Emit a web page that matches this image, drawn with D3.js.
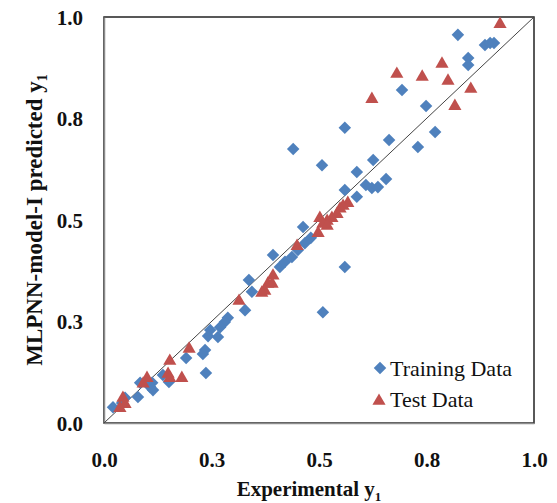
<!DOCTYPE html>
<html>
<head>
<meta charset="utf-8">
<script src="https://cdnjs.cloudflare.com/ajax/libs/d3/7.8.5/d3.min.js"></script>
<style>
  body { margin: 0; background: #fff; }
  text { font-family: "Liberation Serif", "Times New Roman", serif; }
</style>
</head>
<body>
<div id="chart"></div>
<script>
// values: [experimental, predicted]
var trainingData = [
  [0.823, 0.956], [0.886, 0.931], [0.898, 0.936], [0.907, 0.936],
  [0.847, 0.899], [0.847, 0.882], [0.693, 0.820], [0.749, 0.781],
  [0.560, 0.727], [0.770, 0.717], [0.663, 0.697], [0.730, 0.680],
  [0.626, 0.648], [0.507, 0.635], [0.588, 0.618], [0.440, 0.675],
  [0.656, 0.601], [0.609, 0.586], [0.623, 0.579], [0.637, 0.581],
  [0.560, 0.574], [0.588, 0.557], [0.463, 0.483], [0.560, 0.384],
  [0.509, 0.273], [0.393, 0.414], [0.409, 0.384], [0.421, 0.397],
  [0.437, 0.409], [0.451, 0.426], [0.467, 0.443], [0.481, 0.456],
  [0.337, 0.352], [0.344, 0.323], [0.328, 0.278], [0.288, 0.259],
  [0.281, 0.249], [0.270, 0.236], [0.247, 0.229], [0.242, 0.214],
  [0.265, 0.212], [0.235, 0.180], [0.230, 0.170], [0.191, 0.160],
  [0.237, 0.123], [0.137, 0.118], [0.151, 0.101], [0.112, 0.099],
  [0.114, 0.081], [0.107, 0.089], [0.084, 0.099], [0.079, 0.064],
  [0.049, 0.062], [0.042, 0.049], [0.021, 0.039]
];

var testData = [
  [0.921, 0.985], [0.681, 0.862], [0.740, 0.855], [0.786, 0.887],
  [0.800, 0.845], [0.853, 0.825], [0.816, 0.783], [0.623, 0.800],
  [0.567, 0.544], [0.556, 0.537], [0.549, 0.530], [0.542, 0.517],
  [0.530, 0.507], [0.519, 0.500], [0.509, 0.493], [0.502, 0.507],
  [0.498, 0.470], [0.519, 0.488], [0.449, 0.438], [0.393, 0.365],
  [0.381, 0.345], [0.374, 0.328], [0.367, 0.323], [0.391, 0.345],
  [0.314, 0.303], [0.198, 0.185], [0.153, 0.155], [0.149, 0.123],
  [0.153, 0.113], [0.181, 0.113], [0.100, 0.113], [0.091, 0.099],
  [0.044, 0.064], [0.049, 0.049], [0.037, 0.039]
];

var tickValues = [0, 0.25, 0.5, 0.75, 1];
var tickLabels = ["0.0", "0.3", "0.5", "0.8", "1.0"];

var width = 557, height = 503;
// plot box edges in pixels
var plotLeft = 104, plotRight = 534, plotTop = 17, plotBottom = 423;

var blue = "#4f81bd";
var red = "#c0504d";

var svg = d3.select("#chart").append("svg")
  .attr("width", width)
  .attr("height", height);

var x = d3.scaleLinear().domain([0, 1]).range([plotLeft, plotRight]);
var y = d3.scaleLinear().domain([0, 1]).range([plotBottom, plotTop]);

// plot frame: dark top/right, grey axes on left/bottom
svg.append("rect")
  .attr("x", plotLeft).attr("y", plotTop)
  .attr("width", plotRight - plotLeft).attr("height", plotBottom - plotTop)
  .attr("fill", "#fff")
  .attr("stroke", "#222")
  .attr("stroke-width", 1.5);

var xAxis = d3.axisBottom(x).tickValues(tickValues).tickSize(0)
  .tickFormat(function(d, i) { return tickLabels[i]; });
var yAxis = d3.axisLeft(y).tickValues(tickValues).tickSize(0)
  .tickFormat(function(d, i) { return tickLabels[i]; });

var gx = svg.append("g")
  .attr("transform", "translate(0," + plotBottom + ")")
  .call(xAxis);
gx.select(".domain").attr("stroke", "#8c8c8c").attr("stroke-width", 1.5);
gx.selectAll("text")
  .attr("y", 44).attr("dy", 0)
  .attr("fill", "#111")
  .style("font-size", "21px").style("font-weight", "bold")
  .style("font-family", "'Liberation Serif', serif");

var gy = svg.append("g")
  .attr("transform", "translate(" + plotLeft + ",0)")
  .call(yAxis);
gy.select(".domain").attr("stroke", "#8c8c8c").attr("stroke-width", 1.5);
gy.selectAll("text")
  .attr("x", -21).attr("dy", "0.35em")
  .attr("fill", "#111")
  .style("font-size", "21px").style("font-weight", "bold")
  .style("font-family", "'Liberation Serif', serif");

// 1:1 line
svg.append("line")
  .attr("x1", x(0)).attr("y1", y(0))
  .attr("x2", x(1)).attr("y2", y(1))
  .attr("stroke", "#444")
  .attr("stroke-width", 1);

var diamond = d3.symbol().type(d3.symbolDiamond2).size(100);
var triangle = d3.symbol().type(d3.symbolTriangle).size(75);

svg.append("g").selectAll("path")
  .data(trainingData)
  .enter().append("path")
  .attr("d", diamond)
  .attr("transform", function(d) { return "translate(" + x(d[0]) + "," + y(d[1]) + ")"; })
  .attr("fill", blue);

svg.append("g").selectAll("path")
  .data(testData)
  .enter().append("path")
  .attr("d", triangle)
  .attr("transform", function(d) { return "translate(" + x(d[0]) + "," + (y(d[1]) + 1) + ")"; })
  .attr("fill", red);

// legend
var legend = svg.append("g");
legend.append("path").attr("d", diamond)
  .attr("transform", "translate(380,368)").attr("fill", blue);
legend.append("text").attr("x", 390).attr("y", 376)
  .style("font-size", "22px").attr("fill", "#111").text("Training Data");
legend.append("path").attr("d", triangle)
  .attr("transform", "translate(379,401)").attr("fill", red);
legend.append("text").attr("x", 390).attr("y", 407)
  .style("font-size", "22px").attr("fill", "#111").text("Test Data");

// axis titles
var xt = svg.append("text")
  .attr("x", 309).attr("y", 496)
  .attr("text-anchor", "middle")
  .style("font-size", "21px").style("font-weight", "bold").attr("fill", "#111");
xt.append("tspan").text("Experimental  y");
xt.append("tspan").attr("dy", 5).style("font-size", "13px").text("1");

var yt = svg.append("text")
  .attr("transform", "translate(42," + ((plotTop + plotBottom) / 2) + ") rotate(-90)")
  .attr("text-anchor", "middle")
  .style("font-size", "23px").style("font-weight", "bold").attr("fill", "#111");
yt.append("tspan").text("MLPNN-model-I predicted  y");
yt.append("tspan").attr("dy", 5).style("font-size", "14px").text("1");
</script>
</body>
</html>
